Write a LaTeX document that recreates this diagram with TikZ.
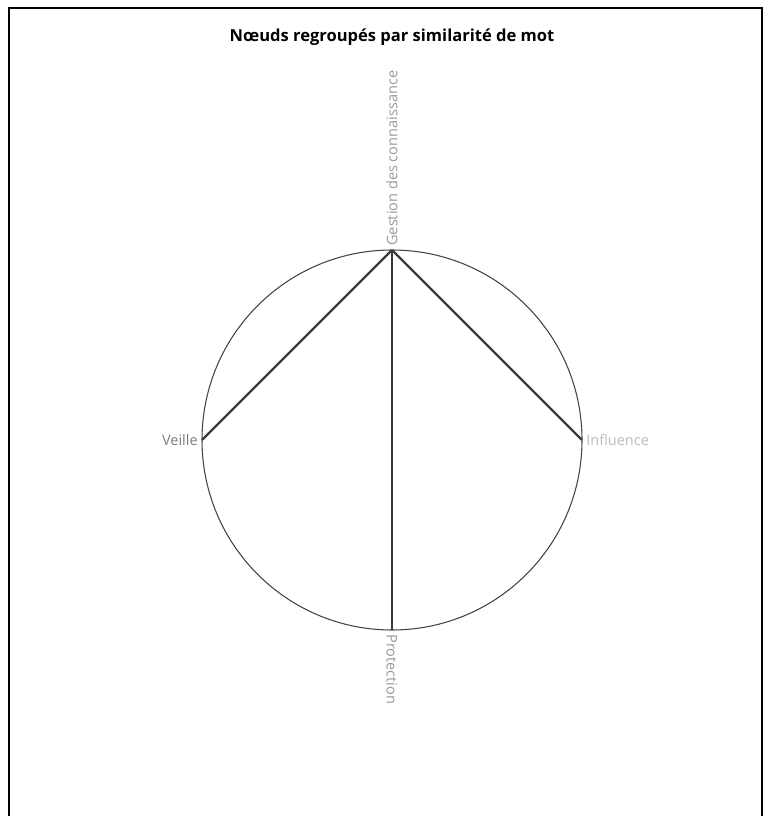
\documentclass[tikz,border=0pt]{standalone}
\usepackage{fontspec}
\setmainfont{Open Sans}
\usetikzlibrary{positioning}
\definecolor{cEdge}{HTML}{3A3A3A}
\definecolor{cRing}{HTML}{444444}
\definecolor{cLblA}{HTML}{9A9A9A}
\definecolor{cLblB}{HTML}{7E7E7E}
\definecolor{cLblC}{HTML}{BDBDBD}
\tikzset{
  vtx/.style   ={circle, inner sep=0pt, minimum size=0pt},
  lbl/.style   ={font=\fontsize{10.9}{12}\selectfont, inner sep=3pt},
  edge/.style  ={draw=cEdge, line width=1.6pt},
  ring/.style  ={draw=cRing, line width=0.8pt},
  ttl/.style   ={font=\fontsize{12.4}{14}\selectfont\bfseries},
}
\begin{document}
\begin{tikzpicture}[x=0.75pt,y=-0.75pt]
  \useasboundingbox (0,0) rectangle (764,816);
  \draw[black, line width=1.1pt] (9,816) -- (9,8) -- (762,8) -- (762,816);
  \node[ttl] (title) at (392,37) {Nœuds regroupés par similarité de mot};
  % ring of nodes
  \node[vtx] (ges) at (392,250) {};
  \node[vtx] (vei) at (202,440) {};
  \node[vtx] (inf) at (582,440) {};
  \node[vtx] (pro) at (392,630) {};
  \draw[ring] (392,440) circle[radius=190];
  \draw[edge] (ges)--(vei);\draw[edge] (ges)--(inf);\draw[edge] (ges)--(pro);
  % labels
  \node[lbl,text=cLblA,rotate=90,anchor=west] (tGes) at (ges) {Gestion des connaissance};
  \node[lbl,text=cLblB,anchor=east] (tVei) at (vei) {Veille};
  \node[lbl,text=cLblC,anchor=west] (tInf) at (inf) {Influence};
  \node[lbl,text=cLblA,rotate=-90,anchor=west] (tPro) at (pro) {Protection};
\end{tikzpicture}
\end{document}
